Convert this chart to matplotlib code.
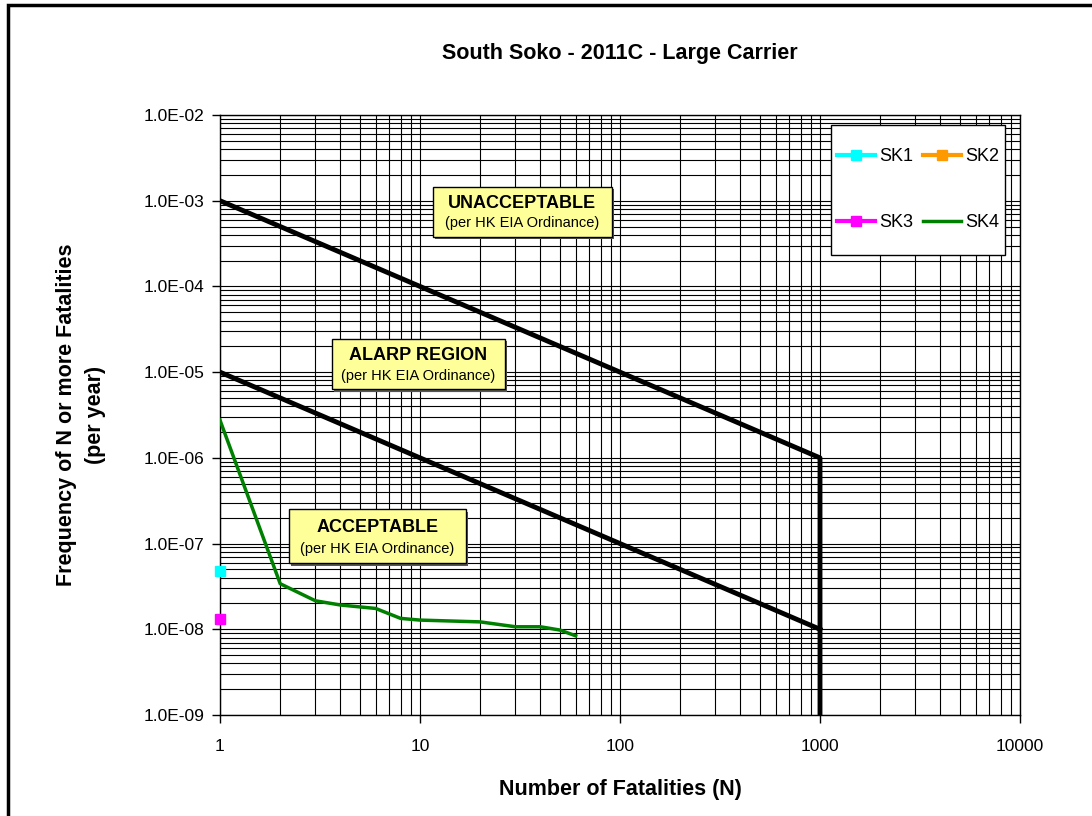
import numpy as np
import matplotlib
matplotlib.use("Agg")
import matplotlib.pyplot as plt
from matplotlib.patches import Rectangle
from matplotlib.ticker import LogLocator, FuncFormatter

plt.rcParams['font.family'] = ['Liberation Sans', 'DejaVu Sans']

# criteria lines (HK EIA Ordinance)
upper_n = [1, 1000, 1000]
upper_f = [1e-3, 1e-6, 1e-9]
lower_n = [1, 1000]
lower_f = [1e-5, 1e-8]

# societal risk results
sk1_n = [1]
sk1_f = [4.8e-8]
sk2_n = []
sk2_f = []
sk3_n = [1]
sk3_f = [1.32e-8]
sk4_n = [1, 2, 3, 4, 6, 8, 10, 20, 30, 40, 50, 60]
sk4_f = [2.75e-6, 3.4e-8, 2.15e-8, 1.92e-8, 1.75e-8, 1.34e-8, 1.28e-8,
         1.22e-8, 1.07e-8, 1.07e-8, 9.8e-9, 8.4e-9]

fig = plt.figure(figsize=(10.92, 8.16), dpi=100)
ax = fig.add_axes([220 / 1092, 101 / 816, 800 / 1092, 600 / 816])

# outer chart border (only top and left edges visible)
fig.patches.append(Rectangle((8 / 1092, -0.1), 1.2, 1.1 - 5 / 816, transform=fig.transFigure,
                             fill=False, edgecolor='black', linewidth=2.5))

ax.set_xscale('log')
ax.set_yscale('log')
ax.set_xlim(1, 10000)
ax.set_ylim(1e-9, 1e-2)

ax.xaxis.set_major_locator(LogLocator(base=10, numticks=10))
ax.yaxis.set_major_locator(LogLocator(base=10, numticks=10))
ax.xaxis.set_minor_locator(LogLocator(base=10, subs=np.arange(2, 10), numticks=10))
ax.yaxis.set_minor_locator(LogLocator(base=10, subs=np.arange(2, 10), numticks=10))
ax.xaxis.set_major_formatter(FuncFormatter(lambda v, p: f"{v:g}"))
ax.yaxis.set_major_formatter(FuncFormatter(lambda v, p: f"{v:.1E}"))
ax.xaxis.set_minor_formatter(FuncFormatter(lambda v, p: ""))
ax.yaxis.set_minor_formatter(FuncFormatter(lambda v, p: ""))

ax.grid(True, which='both', color='black', linewidth=0.8)
ax.set_axisbelow(True)
ax.tick_params(which='major', direction='out', length=6, width=1, labelsize=12.5, pad=5)
ax.tick_params(which='minor', length=0)
ax.tick_params(axis='x', pad=11)
for s in ax.spines.values():
    s.set_linewidth(1)

ax.plot(upper_n, upper_f, color='black', linewidth=3.5, zorder=3)
ax.plot(lower_n, lower_f, color='black', linewidth=3.5, zorder=3)

l1, = ax.plot(sk1_n, sk1_f, color='#00FFFF', marker='s', markersize=7, linewidth=3,
              label='SK1', zorder=4, clip_on=False)
l2, = ax.plot(sk2_n, sk2_f, color='#FF9900', marker='s', markersize=7, linewidth=3,
              label='SK2', zorder=4)
l3, = ax.plot(sk3_n, sk3_f, color='#FF00FF', marker='s', markersize=7, linewidth=3,
              label='SK3', zorder=4, clip_on=False)
l4, = ax.plot(sk4_n, sk4_f, color='#008000', linewidth=2.5, label='SK4', zorder=4)

# legend frame drawn separately so the rows can sit far apart
ax.add_patch(Rectangle((0.764, 0.767), 0.2175, 0.2167, transform=ax.transAxes,
                       facecolor='white', edgecolor='black', linewidth=1, zorder=6))
leg = ax.legend(handles=[l1, l3, l2, l4], ncol=2, loc='center',
                bbox_to_anchor=(0.764 + 0.2175 / 2, 0.767 + 0.2167 / 2),
                fontsize=13, frameon=False, handlelength=2.1,
                labelspacing=2.7, columnspacing=0.55, handletextpad=0.25,
                borderpad=0, borderaxespad=0)
leg.set_zorder(7)

# region labels
boxes = [
    ("UNACCEPTABLE", (0.266, 0.797, 0.224, 0.083)),
    ("ALARP REGION", (0.140, 0.543, 0.216, 0.084)),
    ("ACCEPTABLE", (0.086, 0.253, 0.2215, 0.090)),
]
for title, (bx, by, bw, bh) in boxes:
    ax.add_patch(Rectangle((bx + 0.003, by - 0.004), bw, bh, transform=ax.transAxes,
                           facecolor='#555555', edgecolor='none', zorder=5, clip_on=False))
    ax.add_patch(Rectangle((bx, by), bw, bh, transform=ax.transAxes,
                           facecolor='#FFFF99', edgecolor='black', linewidth=1,
                           zorder=5, clip_on=False))
    ax.text(bx + bw / 2, by + bh * 0.66, title, transform=ax.transAxes, ha='center',
            va='center', fontsize=13, fontweight='bold', zorder=6)
    ax.text(bx + bw / 2, by + bh * 0.27, "(per HK EIA Ordinance)", transform=ax.transAxes,
            ha='center', va='center', fontsize=10.5, zorder=6)

ax.set_title("South Soko - 2011C - Large Carrier", fontsize=15.5, fontweight='bold', pad=40)
ax.set_xlabel("Number of Fatalities (N)", fontsize=15.5, fontweight='bold', labelpad=18)
ax.set_ylabel("Frequency of N or more Fatalities\n(per year)", fontsize=15.5,
              fontweight='bold', labelpad=27, linespacing=1.5)

fig.savefig("out.png", dpi=100)
